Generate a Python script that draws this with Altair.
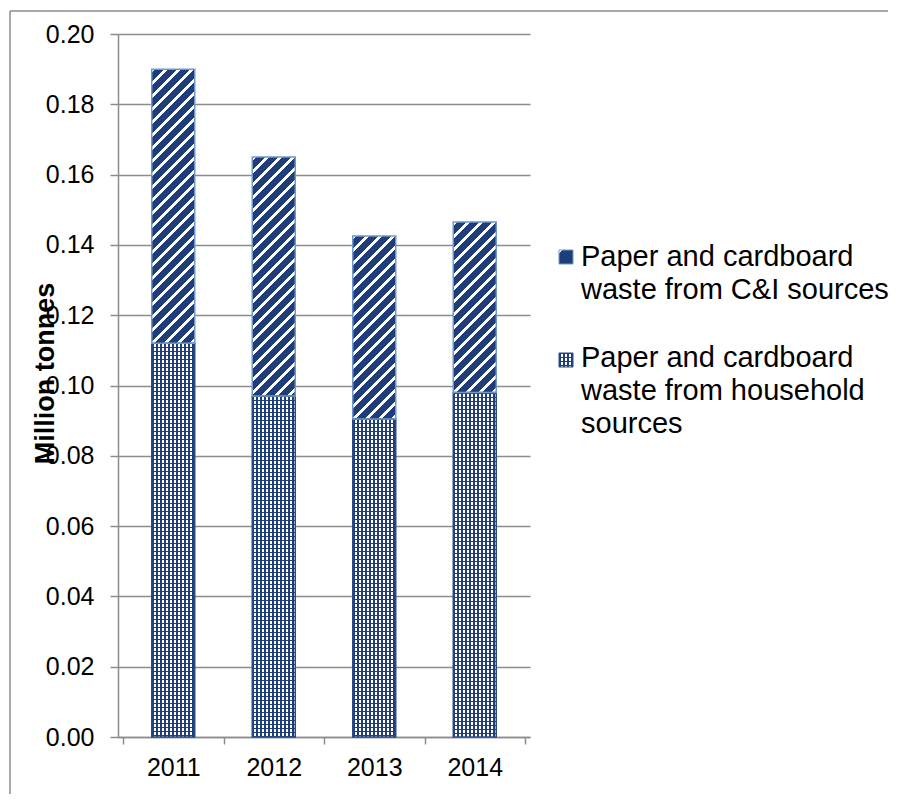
import altair as alt

# ---------------- data ----------------
categories = ["2011", "2012", "2013", "2014"]
household = [0.112, 0.097, 0.0905, 0.098]      # Paper and cardboard waste from household sources
commercial = [0.078, 0.068, 0.052, 0.0485]     # Paper and cardboard waste from C&I sources
series_names = [
    "Paper and cardboard\nwaste from C&I sources",
    "Paper and cardboard\nwaste from household\nsources",
]
y_ticks = [0.00, 0.02, 0.04, 0.06, 0.08, 0.10, 0.12, 0.14, 0.16, 0.18, 0.20]
y_title = "Million tonnes"

# ---------------- style ----------------
PLOT_W, PLOT_H = 412, 703
Y_MAX = 0.20
BAR_W = 43
NAVY = "#1F3E79"
WHITE = "#FFFFFF"
CLEAR = "rgba(255,255,255,0)"
GRID = "#8C8C8C"
EDGE_CI = "#6F97CE"
EDGE_HH = "#2A4C85"
FONT = "Liberation Sans"


def stripe_stops(length, period, on, c_on, c_off):
    stops = []
    pos = 0.0
    while pos < length - 1e-9:
        b = min(pos + on, length)
        c = min(pos + period, length)
        for off, col in ((pos, c_on), (b, c_on), (b, c_off), (c, c_off)):
            stops.append({"offset": round(off / length, 6), "color": col})
        pos += period
    return stops


def diagonal(w, h, period=13, on=4, c_on=WHITE, c_off=NAVY):
    # 45-degree "/" stripes inside a w x h box (bounding-box gradient units)
    k = (w + h) / (w * w + h * h)
    return {"gradient": "linear", "x1": 0, "y1": 0,
            "x2": round(k * w, 6), "y2": round(k * h, 6),
            "stops": stripe_stops(w + h, period, on, c_on, c_off)}


def columns(w, period=4, on=2):
    return {"gradient": "linear", "x1": 0, "y1": 0, "x2": 1, "y2": 0,
            "stops": stripe_stops(w, period, on, NAVY, WHITE)}


def rows(h, period=4, on=1):
    return {"gradient": "linear", "x1": 0, "y1": 0, "x2": 0, "y2": 1,
            "stops": stripe_stops(h, period, on, NAVY, CLEAR)}


px = PLOT_H / Y_MAX
segments = []
for i, cat in enumerate(categories):
    h, c = household[i], commercial[i]
    segments.append({"pos": i + 0.5, "year": cat, "lo": 0, "hi": h,
                     "fillA": columns(BAR_W), "fillB": rows(h * px), "edge": EDGE_HH})
    segments.append({"pos": i + 0.5, "year": cat, "lo": h, "hi": h + c,
                     "fillA": diagonal(BAR_W, c * px), "fillB": CLEAR, "edge": EDGE_CI})

bars_data = alt.Data(values=segments)

x_scale = alt.Scale(domain=[0, len(categories)], nice=False, zero=False)
y_scale = alt.Scale(domain=[0, Y_MAX], nice=False, zero=True)

y_axis = alt.Axis(values=y_ticks, format=".2f", title=y_title, grid=True,
                  gridColor=GRID, gridWidth=1.5, domainColor=GRID, domainWidth=1.5,
                  tickColor=GRID, tickWidth=1.5, tickSize=8, labelPadding=16,
                  labelFont=FONT, labelFontSize=25, labelColor="#000000",
                  titleFont=FONT, titleFontSize=27, titleFontWeight="bold",
                  titleColor="#000000", titleX=-65, titleY=339,
                  titleBaseline="alphabetic", titleAlign="center")

label_expr = "[" + ",".join("'%s'" % c for c in categories) + "][floor(datum.value)]"
x_axis_labels = alt.Axis(orient="bottom", values=[i + 0.5 for i in range(len(categories))],
                         labelExpr=label_expr, title=None, grid=False, domain=False,
                         ticks=True, tickOpacity=0, tickSize=7, labelPadding=11,
                         labelFlush=False, labelOverlap=False,
                         labelFont=FONT, labelFontSize=25, labelColor="#000000")
x_axis_ticks = alt.Axis(orient="bottom", values=list(range(len(categories) + 1)),
                        labels=False, title=None, grid=False, domainColor=GRID,
                        domainWidth=1.5, tickColor=GRID, tickWidth=1.5, tickSize=7)

layer_fill = alt.Chart(bars_data).mark_bar(size=BAR_W, strokeWidth=0).encode(
    x=alt.X("pos:Q", scale=x_scale, axis=x_axis_labels),
    y=alt.Y("lo:Q", scale=y_scale, axis=y_axis),
    y2="hi:Q",
    fill=alt.Fill("fillA:N", scale=None),
)
layer_top = alt.Chart(bars_data).mark_bar(size=BAR_W, strokeWidth=1.5).encode(
    x=alt.X("pos:Q", scale=x_scale, axis=x_axis_ticks),
    y=alt.Y("lo:Q", scale=y_scale, axis=y_axis),
    y2="hi:Q",
    fill=alt.Fill("fillB:N", scale=None),
    stroke=alt.Stroke("edge:N", scale=None),
)

one = alt.Data(values=[{"k": 0}])

# legend swatches
sw_ci = alt.Chart(one).mark_rect(fill=diagonal(14, 14, period=40, on=3), stroke=EDGE_CI,
                                 strokeWidth=1).encode(
    x=alt.value(441), x2=alt.value(455), y=alt.value(216), y2=alt.value(230))
sw_hh_a = alt.Chart(one).mark_rect(fill=columns(14)).encode(
    x=alt.value(441), x2=alt.value(455), y=alt.value(319), y2=alt.value(333))
sw_hh_b = alt.Chart(one).mark_rect(fill=rows(14), stroke=EDGE_HH, strokeWidth=1).encode(
    x=alt.value(441), x2=alt.value(455), y=alt.value(319), y2=alt.value(333))

text_style = dict(align="left", baseline="alphabetic", lineBreak="\n", lineHeight=33,
                  font=FONT, fontSize=29, color="#000000")
txt_ci = alt.Chart(alt.Data(values=[{"label": series_names[0]}])).mark_text(**text_style).encode(
    x=alt.value(463), y=alt.value(232), text="label:N")
txt_hh = alt.Chart(alt.Data(values=[{"label": series_names[1]}])).mark_text(**text_style).encode(
    x=alt.value(463), y=alt.value(333), text="label:N")

# chart-area border (left and top edges visible)
border_left = alt.Chart(one).mark_rule(color=GRID, strokeWidth=1.5).encode(
    x=alt.value(-108), y=alt.value(-23), y2=alt.value(760))
border_top = alt.Chart(one).mark_rule(color=GRID, strokeWidth=1.5).encode(
    x=alt.value(-108), x2=alt.value(770), y=alt.value(-23))

chart = alt.layer(
    layer_fill, layer_top, sw_ci, sw_hh_a, sw_hh_b, txt_ci, txt_hh, border_left, border_top
).resolve_axis(x="independent").properties(
    width=PLOT_W, height=PLOT_H,
    autosize=alt.AutoSizeParams(type="none"),
    padding={"left": 110, "top": 26, "right": 366, "bottom": 57},
    background="#FFFFFF",
).configure_view(stroke=None)

chart.save("out.html", embed_options={"renderer": "svg", "actions": False})
